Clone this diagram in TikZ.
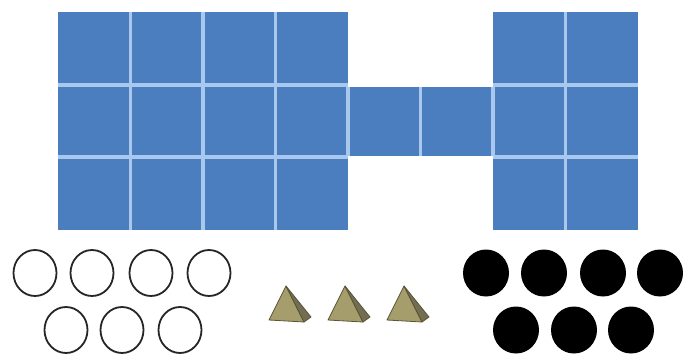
\documentclass[tikz,border=0pt]{standalone}
\begin{document}
\begin{tikzpicture}[x=1pt,y=-1pt,
  cellc/.style={fill=cellblue},
  gapline/.style={draw=gapblue,line width=3.8pt},
  opencirc/.style={draw=black!85,line width=1.8pt,fill=white},
  fullcirc/.style={fill=black},
  pyrfront/.style={fill=pyrlight,draw=pyrdark,line width=0.8pt,line join=round},
  pyrside/.style={fill=pyrdark!85,draw=pyrdark,line width=0.8pt,line join=round}]
\definecolor{cellblue}{HTML}{4A7EBE}
\definecolor{gapblue}{HTML}{A8C8EE}
\definecolor{pyrlight}{HTML}{A59D6C}
\definecolor{pyrdark}{HTML}{5A5434}
\useasboundingbox (0,0) rectangle (683,362);
\fill[white] (0,0) rectangle (683,362);
% blocks
\fill[cellc] (58,12) rectangle (348,230);
\fill[cellc] (348,86.5) rectangle (493,155.5);
\fill[cellc] (493,12) rectangle (638,230);
% gap lines
\foreach \x in {130.5,203,275.5,565.5}{ \draw[gapline] (\x,12) -- (\x,230); }
\foreach \x in {348,420.5,493}{ \draw[gapline] (\x,86.5) -- (\x,155.5); }
\foreach \y in {84.7,157.3}{
  \draw[gapline] (58,\y) -- (348,\y);
  \draw[gapline] (493,\y) -- (638,\y);
}
% open circles
\foreach \x in {35,92,151,209}{ \draw[opencirc] (\x,273) ellipse [x radius=21.5,y radius=23]; }
\foreach \x in {66,122,180}{ \draw[opencirc] (\x,330) ellipse [x radius=21.5,y radius=23]; }
% pyramids
\foreach \dx in {0,59,118}{
  \begin{scope}[xshift=\dx]
  \filldraw[pyrfront] (286,286) -- (269,320) -- (304,322) -- cycle;
  \filldraw[pyrside] (286,286) -- (304,322) -- (311,317) -- cycle;
  \end{scope}
}
% black circles
\foreach \x in {486,544,603,660}{ \fill[fullcirc] (\x,273) ellipse [x radius=23,y radius=23.5]; }
\foreach \x in {516,574,631}{ \fill[fullcirc] (\x,330) ellipse [x radius=23,y radius=23.5]; }
\end{tikzpicture}
\end{document}
